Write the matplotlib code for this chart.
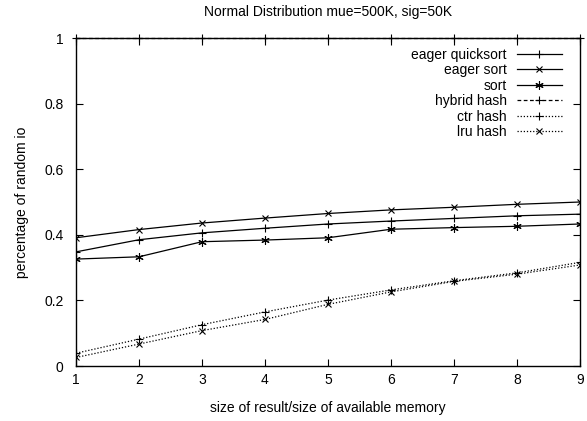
import matplotlib
matplotlib.use("Agg")
import matplotlib.pyplot as plt

plt.rcParams['font.family'] = ['Liberation Sans', 'DejaVu Sans']

# data
ratio = [1, 2, 3, 4, 5, 6, 7, 8, 9]
eager_quicksort = [0.348, 0.385, 0.406, 0.420, 0.433, 0.442, 0.450, 0.458, 0.463]
eager_sort = [0.391, 0.416, 0.436, 0.451, 0.465, 0.476, 0.484, 0.493, 0.500]
sort = [0.326, 0.333, 0.379, 0.384, 0.391, 0.417, 0.422, 0.426, 0.433]
hybrid_hash = [1.0, 1.0, 1.0, 1.0, 1.0, 1.0, 1.0, 1.0, 1.0]
ctr_hash = [0.039, 0.082, 0.126, 0.165, 0.201, 0.232, 0.260, 0.284, 0.316]
lru_hash = [0.026, 0.067, 0.108, 0.142, 0.188, 0.226, 0.258, 0.280, 0.308]

fig = plt.figure(figsize=(5.87, 4.21), dpi=100)
ax = fig.add_axes([0.1295, 0.1306, 0.8585, 0.7791])

star = (6, 2, 0)
lw = 0.9
ax.plot(ratio, eager_quicksort, color='black', lw=lw, marker='+', ms=6, mew=0.8, label='eager quicksort')
ax.plot(ratio, eager_sort, color='black', lw=lw, marker='x', ms=5, mew=0.8, label='eager sort')
ax.plot(ratio, sort, color='black', lw=lw, marker=star, ms=6, mew=0.8, label='sort')
ax.plot(ratio, hybrid_hash, color='black', lw=lw, ls=(0, (3, 2)), marker='+', ms=6, mew=0.8,
        label='hybrid hash', clip_on=False)
ax.plot(ratio, ctr_hash, color='black', lw=lw, ls=(0, (1, 1.5)), marker='+', ms=6, mew=0.8, label='ctr hash')
ax.plot(ratio, lru_hash, color='black', lw=lw, ls=(0, (1, 1.5)), marker='x', ms=5, mew=0.8, label='lru hash')

ax.set_xlim(1, 9)
ax.set_ylim(0, 1)
ax.set_xticks(ratio)
ax.set_yticks([0, 0.2, 0.4, 0.6, 0.8, 1])
ax.set_yticklabels(['0', '0.2', '0.4', '0.6', '0.8', '1'])
ax.tick_params(direction='in', top=True, right=True, length=5, width=0.8, labelsize=10)
ax.tick_params(axis='x', pad=5)
ax.tick_params(axis='y', pad=9)
for s in ax.spines.values():
    s.set_linewidth(1.0)

ax.set_title('Normal Distribution mue=500K, sig=50K', fontsize=10, pad=16)
ax.set_xlabel('size of result/size of available memory', fontsize=10, labelpad=10)
ax.set_ylabel('percentage of random io', fontsize=10, labelpad=11)

ax.legend(loc='upper right', bbox_to_anchor=(0.99, 1.009), frameon=False, markerfirst=False,
          fontsize=10, handlelength=3.3, labelspacing=0.11, handletextpad=0.7)

fig.savefig('out.png', dpi=100)
